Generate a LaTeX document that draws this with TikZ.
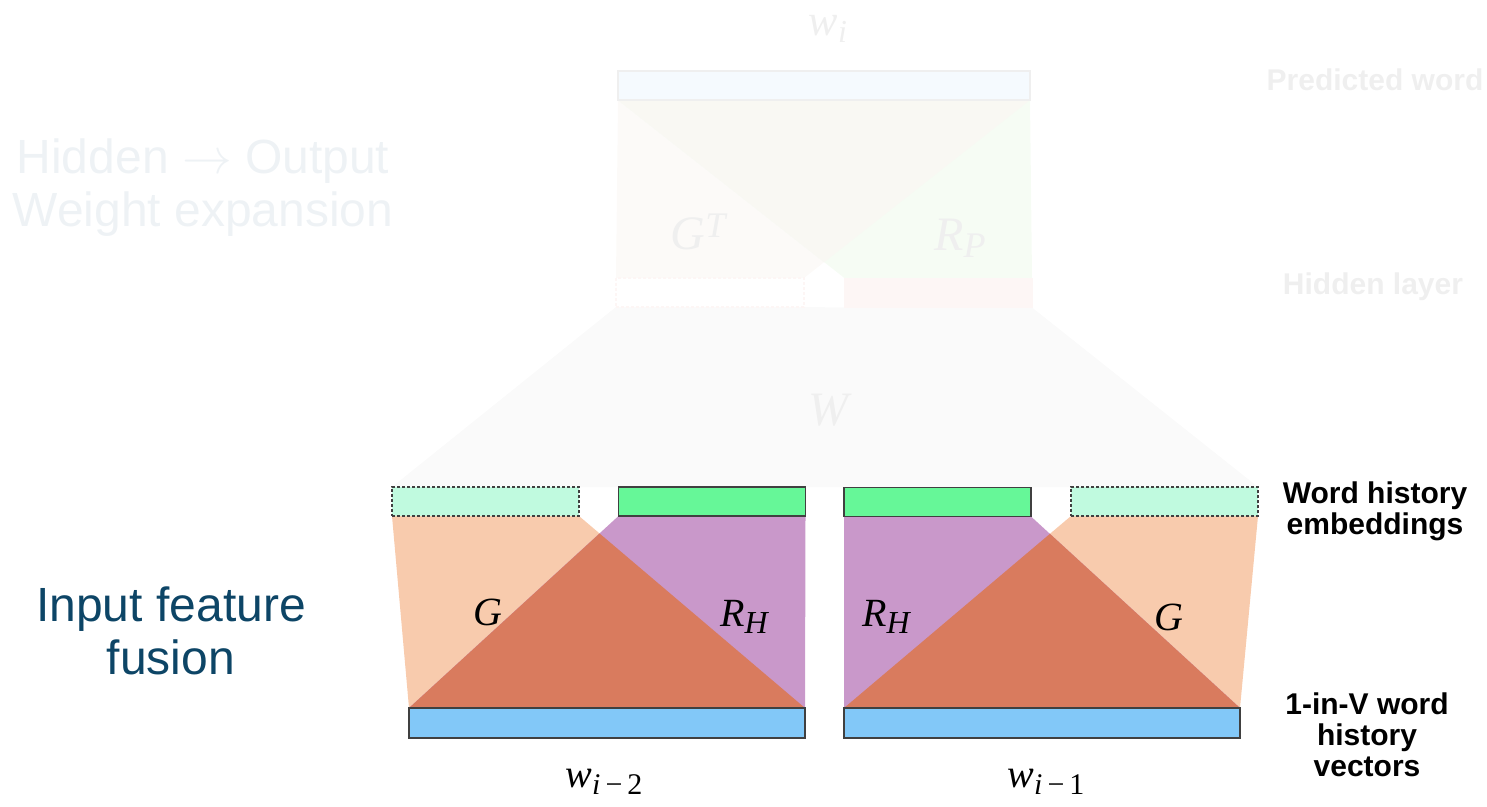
\documentclass[tikz,border=0pt]{standalone}
\usepackage{fontspec}
\setmainfont{Liberation Sans}
\newfontfamily\tms{Liberation Serif}
\definecolor{peach}{HTML}{F8CBAD}
\definecolor{purp}{HTML}{C998CA}
\definecolor{overl}{HTML}{D97B5E}
\definecolor{embg}{HTML}{66F798}
\definecolor{embl}{HTML}{C0FADF}
\definecolor{vecb}{HTML}{82C8F8}
\definecolor{edge}{HTML}{404040}
\definecolor{teal}{HTML}{0D4566}
\definecolor{fainttxt}{HTML}{EEF2F5}
\definecolor{faintgray}{HTML}{EFEFEF}
\definecolor{fW}{HTML}{FAFAFA}
\definecolor{fGT}{HTML}{FCFAF8}
\definecolor{fRP}{HTML}{F6FCF4}
\definecolor{fOV}{HTML}{F9F8F3}
\definecolor{fOut}{HTML}{F5FAFE}
\definecolor{fHR}{HTML}{FDF6F5}
\newcommand{\mvar}[2][20]{{\tms\itshape\fontsize{#1}{#1}\selectfont #2}}
\newcommand{\msub}[2][15]{\raisebox{-0.35em}{\tms\itshape\fontsize{#1}{#1}\selectfont #2}}
\begin{document}
\begin{tikzpicture}[x=0.5pt,y=-0.5pt,
  box/.style={rectangle, inner sep=0pt, outer sep=0pt, line width=0.8pt, draw=edge},
  dashbox/.style={box, dash pattern=on 1.5pt off 1pt, fill=embl, minimum width=93.5pt, minimum height=14.5pt},
  greenbox/.style={box, fill=embg, minimum width=93.5pt, minimum height=14.5pt},
  bluebox/.style={box, fill=vecb, minimum width=198pt, minimum height=15pt},
  outbox/.style={box, draw=faintgray, fill=fOut, minimum width=206pt, minimum height=14.5pt},
  hlbox/.style={box, draw=fHR, dash pattern=on 1.5pt off 1pt, fill=white, minimum width=94pt, minimum height=14.5pt},
  hrbox/.style={box, draw=fHR, fill=fHR, minimum width=93.5pt, minimum height=14.5pt},
  mlabel/.style={inner sep=0pt},
  sidelabel/.style={align=center, font=\bfseries\fontsize{15}{15.5}\selectfont},
  bigtxt/.style={align=center, font=\fontsize{24}{26.5}\selectfont}]
\useasboundingbox (0,0) rectangle (1487,807);

% ---- box nodes (drawn first for anchors, redrawn on top later) ----
\node[outbox] (out) at (824,85.5) {};
\node[hlbox] (hl) at (710,292.5) {};
\node[hrbox] (hr) at (938.5,293) {};
\node[dashbox] (emb1) at (485.5,501.5) {};
\node[greenbox] (g1) at (712,501.5) {};
\node[bluebox] (vec1) at (607,723) {};
\node[greenbox] (g2) at (937.5,502) {};
\node[dashbox] (emb2) at (1164.5,501.5) {};
\node[bluebox] (vec2) at (1042,723) {};

% W trapezoid
\fill[fW] (hl.south west) -- (hr.south east) -- (emb2.north east) -- (emb1.north west) -- cycle;
% G^T and R_P regions
\coordinate (xt) at (intersection of hl.north east--out.south east and hr.north west--out.south west);
\fill[fGT] (hl.north west) -- (hl.north east) -- (out.south east) -- (out.south west) -- cycle;
\fill[fRP] (hr.north west) -- (hr.north east) -- (out.south east) -- (out.south west) -- cycle;
\fill[fOV] (out.south west) -- (xt) -- (out.south east) -- cycle;

% lower left regions
\fill[peach] (emb1.south west) -- (emb1.south east) -- (vec1.north east) -- (vec1.north west) -- cycle;
\fill[purp] (g1.south west) -- (g1.south east) -- (vec1.north east) -- (vec1.north west) -- cycle;
\coordinate (x1) at (intersection of emb1.south east--vec1.north east and g1.south west--vec1.north west);
\fill[overl] (vec1.north west) -- (x1) -- (vec1.north east) -- cycle;
% lower right regions
\fill[peach] (emb2.south west) -- (emb2.south east) -- (vec2.north east) -- (vec2.north west) -- cycle;
\fill[purp] (g2.south west) -- (g2.south east) -- (vec2.north east) -- (vec2.north west) -- cycle;
\coordinate (x2) at (intersection of emb2.south west--vec2.north west and g2.south east--vec2.north east);
\fill[overl] (vec2.north west) -- (x2) -- (vec2.north east) -- cycle;

% boxes on top
\node[outbox] at (out) {};
\node[hlbox] at (hl) {};
\node[hrbox] at (hr) {};
\node[dashbox] at (emb1) {};
\node[greenbox] at (g1) {};
\node[bluebox] at (vec1) {};
\node[greenbox] at (g2) {};
\node[dashbox] at (emb2) {};
\node[bluebox] at (vec2) {};

% math labels
\node[mlabel, text=faintgray, anchor=base] (wi) at (828,36) {\mvar[22]{w}\msub[16]{i}};
\node[mlabel, text=faintgray] (gt) at (698,232) {\mvar[24]{G}\raisebox{0.6em}{\mvar[18]{T}}};
\node[mlabel, text=faintgray] (rp) at (960,238) {\mvar[24]{R}\msub[18]{P}};
\node[mlabel, text=faintgray] (wl) at (828,410) {\mvar[24]{W}};

\node[mlabel] (gl1) at (488,612) {\mvar{G}};
\node[mlabel] (rh1) at (744,617) {\mvar{R}\msub[16]{H}};
\node[mlabel] (rh2) at (886,617) {\mvar{R}\msub[16]{H}};
\node[mlabel] (gl2) at (1169,617) {\mvar{G}};

\node[mlabel, anchor=base] (wm2) at (604,787) {\mvar{w}\msub{i\upshape\,−\,2}};
\node[mlabel, anchor=base] (wm1) at (1046,787) {\mvar{w}\msub{i\upshape\,−\,1}};

% text labels
\node[bigtxt, text=fainttxt] (hid) at (203,188) {Hidden $\rightarrow$ Output\\Weight expansion};
\node[bigtxt, text=teal] (inp) at (171,631) {Input feature\\fusion};

\node[sidelabel, text=faintgray] (pw) at (1375,80) {Predicted word};
\node[sidelabel, text=faintgray] (hlab) at (1373,287) {Hidden layer};
\node[sidelabel] (whe) at (1375,511) {Word history\\embeddings};
\node[sidelabel] (ohv) at (1367,735) {1-in-V word\\history\\vectors};
\end{tikzpicture}
\end{document}
